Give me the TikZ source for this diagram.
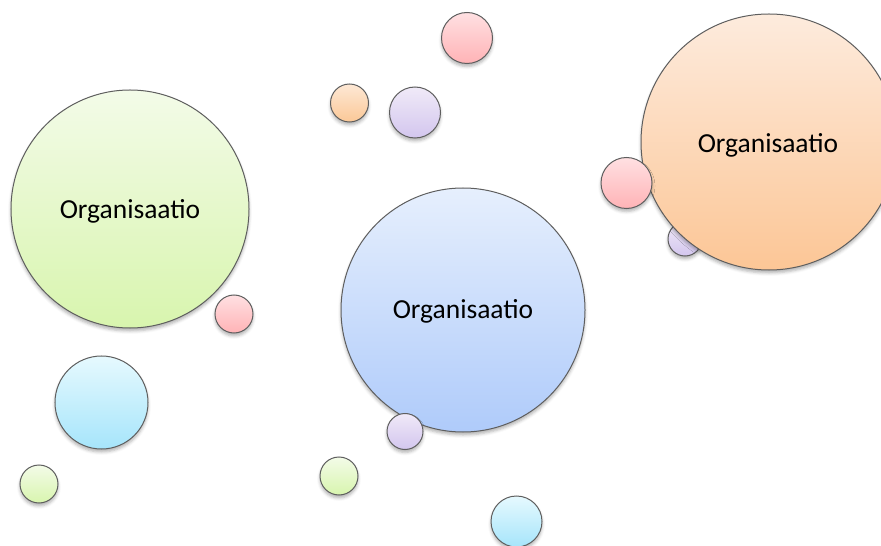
\documentclass[tikz,border=0pt]{standalone}
\usepackage{fontspec}
\setmainfont{Carlito}
\usetikzlibrary{shadows.blur}
\definecolor{bordc}{HTML}{5E5E5E}
\definecolor{gtop}{HTML}{F3FBE8}\definecolor{gbot}{HTML}{D8F5AE}
\definecolor{btop}{HTML}{E6EFFD}\definecolor{bbot}{HTML}{AFCBFA}
\definecolor{otop}{HTML}{FDEBDD}\definecolor{obot}{HTML}{FCC696}
\definecolor{ptop}{HTML}{FFE0E2}\definecolor{pbot}{HTML}{FFB3B6}
\definecolor{vtop}{HTML}{F0EAF8}\definecolor{vbot}{HTML}{D3C6EE}
\definecolor{ctop}{HTML}{E6F9FE}\definecolor{cbot}{HTML}{A6E5FB}
\definecolor{sotop}{HTML}{FDE8D5}\definecolor{sobot}{HTML}{FBC897}
\tikzset{
  bub/.style n args={3}{circle, draw=bordc, line width=1bp, top color=#1, bottom color=#2,
    minimum size=#3, inner sep=0pt,
    blur shadow={shadow xshift=0bp, shadow yshift=-3bp, shadow blur radius=3bp, shadow opacity=30}},
  lbl/.style={font=\fontsize{27.5bp}{32bp}\selectfont, text=black}
}
\begin{document}
\begin{tikzpicture}[x=1bp,y=-1bp]
\useasboundingbox (0,0) rectangle (881,546);
% left group
\node[bub={gtop}{gbot}{238bp}] (green) at (130,209) {};
\node[lbl] (greenTxt) at (130,211) {Organisaatio};
\node[bub={ptop}{pbot}{38bp}] (pinkL) at (234,314) {};
\node[bub={ctop}{cbot}{93bp}] (cyanL) at (101.5,402.5) {};
\node[bub={gtop}{gbot}{38bp}] (greenS1) at (39,484) {};
% middle group
\node[bub={btop}{bbot}{244bp}] (blue) at (463,310) {};
\node[lbl] (blueTxt) at (463,311) {Organisaatio};
\node[bub={vtop}{vbot}{36bp}] (violetB) at (405,431.5) {};
\node[bub={gtop}{gbot}{38bp}] (greenS2) at (339,476) {};
\node[bub={ctop}{cbot}{51bp}] (cyanB) at (516.5,521.5) {};
% top small
\node[bub={ptop}{pbot}{51bp}] (pinkT) at (467,38) {};
\node[bub={sotop}{sobot}{38bp}] (orangeS) at (349.5,103) {};
\node[bub={vtop}{vbot}{51bp}] (violetT) at (415,112.5) {};
% right group
\node[bub={vtop}{vbot}{34bp}] (violetR) at (685,239) {};
\node[bub={otop}{obot}{256bp}] (orange) at (769,142) {};
\node[lbl] (orangeTxt) at (768,145) {Organisaatio};
\node[bub={ptop}{pbot}{51bp}] (pinkR) at (626.5,183) {};
\end{tikzpicture}
\end{document}
